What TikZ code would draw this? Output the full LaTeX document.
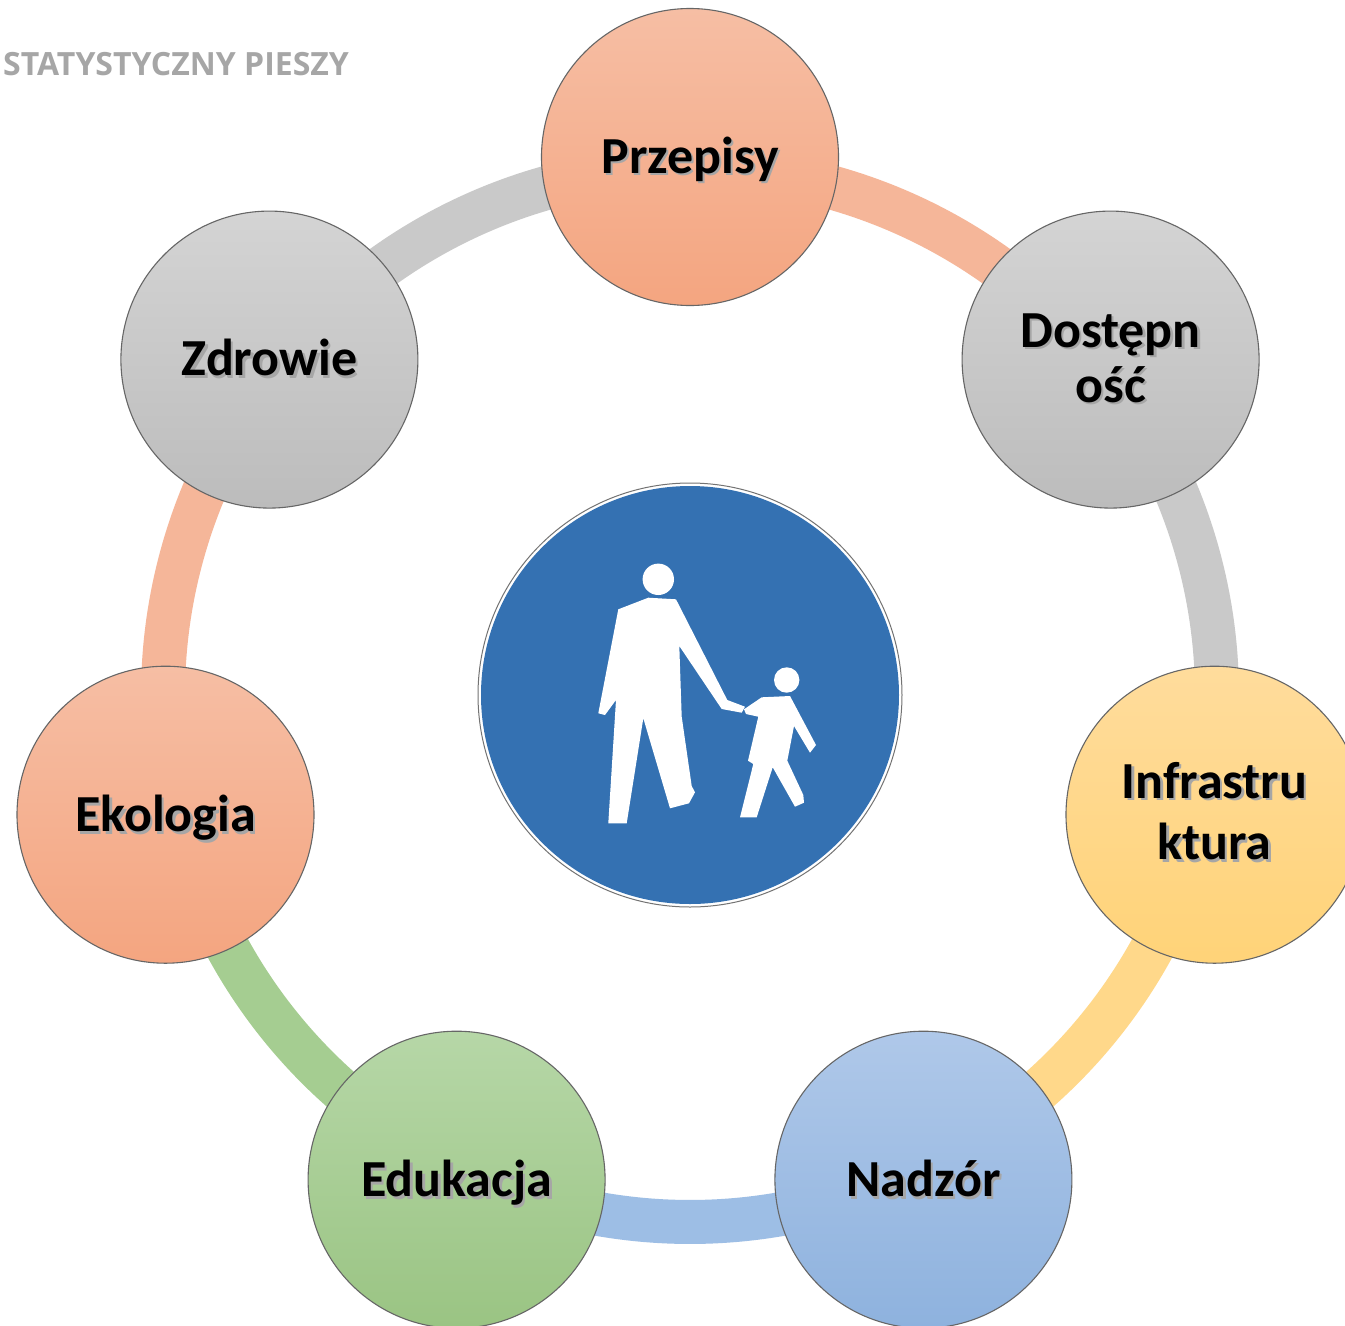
\documentclass[tikz,border=0pt]{standalone}
\usepackage{fontspec}
\setmainfont{Carlito}
\newfontfamily\titlefont{Open Sans}
\usetikzlibrary{calc}
\definecolor{salT}{HTML}{F6BEA4}
\definecolor{salB}{HTML}{F4A580}
\definecolor{gryT}{HTML}{D4D4D4}
\definecolor{gryB}{HTML}{BCBCBC}
\definecolor{yelT}{HTML}{FFDC9C}
\definecolor{yelB}{HTML}{FFD378}
\definecolor{bluT}{HTML}{AFC8E9}
\definecolor{bluB}{HTML}{8EB2DE}
\definecolor{grnT}{HTML}{B6D7A7}
\definecolor{grnB}{HTML}{9AC483}
\definecolor{salA}{HTML}{F5B699}
\definecolor{gryA}{HTML}{C9C9C9}
\definecolor{yelA}{HTML}{FFD88A}
\definecolor{bluA}{HTML}{9DBEE5}
\definecolor{grnA}{HTML}{A5CD91}
\definecolor{signblue}{HTML}{3471B2}
\newcommand\shd[1]{\leavevmode\rlap{\kern2.5pt\raisebox{-2.5pt}{\textcolor{black!35}{#1}}}#1}
\tikzset{
  bubble/.style={circle, minimum size=297pt, inner sep=0pt, draw=black!60, line width=1.1pt, shading=axis},
  ringarc/.style={line width=44pt},
  lbl/.style={font=\bfseries\fontsize{52}{52}\selectfont, inner sep=0pt, anchor=base},
  ttl/.style={font=\titlefont\bfseries\fontsize{32}{32}\selectfont, text=black!35, inner sep=0pt, anchor=base west},
  figure/.style={fill=white},
}
\begin{document}
\begin{tikzpicture}[x=1pt,y=-1pt]
\useasboundingbox (0,0) rectangle (1345,1326);
\fill[white] (0,0) rectangle (1345,1326);
\coordinate (O) at (690,695);
% ring segments
\foreach \a/\col in {90/salA, 38.5714/gryA, -12.8571/yelA, -64.2857/bluA, -115.7143/grnA, -167.1429/salA, -218.5714/gryA}{
  \draw[ringarc, \col] ($(O)+(\a:527pt)$) arc[start angle=\a, end angle=\a-51.4286, radius=527pt];
}
% circles
\node[bubble, top color=salT, bottom color=salB] (c0) at ($(O)+(90:538pt)$) {};
\node[bubble, top color=gryT, bottom color=gryB] (c1) at ($(O)+(38.5714:538pt)$) {};
\node[bubble, top color=yelT, bottom color=yelB] (c2) at ($(O)+(-12.8571:538pt)$) {};
\node[bubble, top color=bluT, bottom color=bluB] (c3) at ($(O)+(-64.2857:538pt)$) {};
\node[bubble, top color=grnT, bottom color=grnB] (c4) at ($(O)+(-115.7143:538pt)$) {};
\node[bubble, top color=salT, bottom color=salB] (c5) at ($(O)+(-167.1429:538pt)$) {};
\node[bubble, top color=gryT, bottom color=gryB] (c6) at ($(O)+(141.4286:538pt)$) {};
% labels
\node[lbl] (l0) at ($(c0.center)+(0,16)$) {\shd{Przepisy}};
\node[lbl] (l1a) at ($(c1.center)+(0,-12.5)$) {\shd{Dostępn}};
\node[lbl] (l1b) at ($(c1.center)+(0,42.5)$) {\shd{ość}};
\node[lbl] (l2a) at ($(c2.center)+(0,-16.5)$) {\shd{Infrastru}};
\node[lbl] (l2b) at ($(c2.center)+(0,45)$) {\shd{ktura}};
\node[lbl] (l3) at ($(c3.center)+(0,17)$) {\shd{Nadzór}};
\node[lbl] (l4) at ($(c4.center)+(0,17)$) {\shd{Edukacja}};
\node[lbl] (l5) at ($(c5.center)+(0,17)$) {\shd{Ekologia}};
\node[lbl] (l6) at ($(c6.center)+(0,16)$) {\shd{Zdrowie}};
% title
\node[ttl] (title) at (3,75) {STATYSTYCZNY PIESZY};
% sign
\node[circle, minimum size=424pt, inner sep=0pt, fill=white, draw=black!55, line width=1pt] (sign) at (O) {};
\fill[signblue] (O) circle[radius=209pt];
% adult
\fill[figure] (658.3,579.3) circle[radius=15.7pt];
\fill[figure] (618.3,609.3) -- (648.3,597.7) -- (676,599.3) -- (727.3,700) -- (745,706.7) -- (741.7,712.7)
  -- (721.7,709) -- (679.3,646) -- (681.7,716.7) -- (691.7,786) -- (695,792.3) -- (689,803.3)
  -- (670,808.3) -- (643.3,718.3) -- (626.7,823.3) -- (608.3,823.3) -- (616,700) -- (605,715)
  -- (598.3,713.3) -- cycle;
% child
\fill[figure] (786.7,680) circle[radius=12.7pt];
\fill[figure] (744,709.3) -- (761.7,697.3) -- (790,696) -- (816,745) -- (810,752.7) -- (794,726)
  -- (787.3,760.7) -- (803.3,795) -- (804,802.7) -- (795,806.7) -- (772.7,767.3) -- (756.7,817.3)
  -- (740,817.3) -- (753.3,764) -- (748,760.7) -- (758.3,716.7) -- (746,714) -- cycle;
\end{tikzpicture}
\end{document}
